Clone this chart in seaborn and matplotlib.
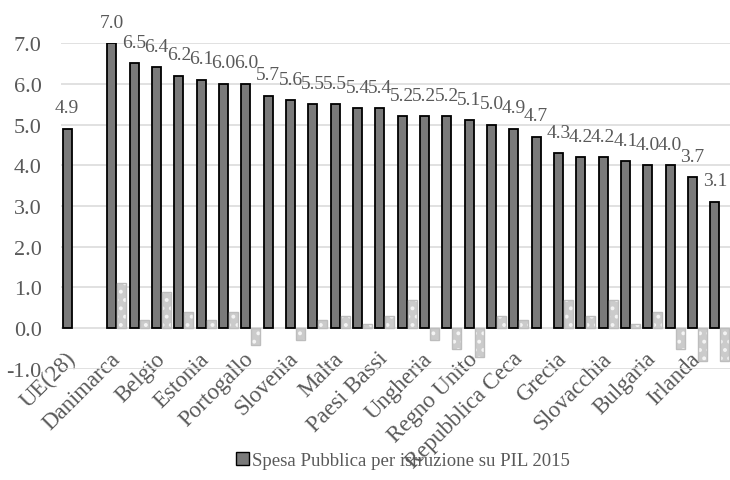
import numpy as np
import pandas as pd
import matplotlib
matplotlib.use("Agg")
import matplotlib.pyplot as plt
from matplotlib.patches import Patch, Rectangle
import seaborn as sns

# Categories in display order (the second slot is an intentional blank spacer)
categories = [
    "UE(28)", " ", "Danimarca", "Svezia", "Belgio", "Finlandia", "Estonia",
    "Cipro", "Portogallo", "Lettonia", "Slovenia", "Francia", "Malta",
    "Lituania", "Paesi Bassi", "Polonia", "Ungheria", "Austria",
    "Regno Unito", "Lussemburgo", "Repubblica Ceca", "Croazia", "Grecia",
    "Germania", "Slovacchia", "Spagna", "Bulgaria", "Italia", "Irlanda",
    "Romania",
]

# Public spending on education as % of GDP, 2015
spesa_2015 = [
    4.9, np.nan, 7.0, 6.5, 6.4, 6.2, 6.1, 6.0, 6.0, 5.7, 5.6, 5.5, 5.5, 5.4,
    5.4, 5.2, 5.2, 5.2, 5.1, 5.0, 4.9, 4.7, 4.3, 4.2, 4.2, 4.1, 4.0, 4.0,
    3.7, 3.1,
]

# Change in percentage points (not listed in the legend)
variazione = [
    np.nan, np.nan, 1.1, 0.2, 0.9, 0.4, 0.2, 0.4, -0.4, np.nan, -0.3, 0.2,
    0.3, 0.1, 0.3, 0.7, -0.3, -0.5, -0.7, 0.3, 0.2, np.nan, 0.7, 0.3, 0.7,
    0.1, 0.4, -0.5, -0.8, -0.8,
]

serie = ["Spesa Pubblica per istruzione su PIL 2015", "Variazione"]

# Every second category name is shown on the axis
tick_labels = [c if i % 2 == 0 else "" for i, c in enumerate(categories)]

rows = []
for c, a, b in zip(categories, spesa_2015, variazione):
    if not np.isnan(a):
        rows.append((c, serie[0], a))
    if not np.isnan(b):
        rows.append((c, serie[1], b))
df = pd.DataFrame(rows, columns=["paese", "serie", "valore"])

sns.set_theme(style="white")
plt.rcParams["font.family"] = ["Liberation Serif", "DejaVu Serif"]
plt.rcParams["hatch.linewidth"] = 1.6
text_col = "#595959"

fig = plt.figure(figsize=(7.30, 4.81), dpi=100)
ax = fig.add_axes([0.0836, 0.2308, 0.9178, 0.6777])

sns.barplot(
    data=df, x="paese", y="valore", hue="serie", order=categories,
    hue_order=serie, palette=["#7a7a7a", "#cbcbcb"], width=0.9, gap=0.1,
    errorbar=None, legend=False, ax=ax, zorder=3,
)

dark, light = ax.containers[0], ax.containers[1]
for p in dark:
    p.set_edgecolor("black")
    p.set_linewidth(1.3)

for p in light:
    p.set_edgecolor("#f4f4f4")
    p.set_linewidth(0)
    p.set_hatch("..")
    x0, y0 = p.get_xy()
    ax.add_patch(Rectangle((x0, y0), p.get_width(), p.get_height(),
                           fill=False, edgecolor="#bdbdbd", linewidth=1.0,
                           zorder=4))

ax.bar_label(dark, fmt="%.1f", padding=9, fontsize=14, color=text_col)

ax.set_ylim(-1.0, 7.0)
ax.set_yticks(np.arange(-1.0, 7.01, 1.0))
ax.set_yticklabels([f"{v:.1f}" for v in np.arange(-1.0, 7.01, 1.0)])
ax.yaxis.grid(True, color="#d9d9d9", linewidth=1.1, zorder=0)
ax.set_axisbelow(True)
for s in ax.spines.values():
    s.set_visible(False)

ax.set_xticks(range(len(categories)))
ax.set_xticklabels(tick_labels, rotation=45, ha="right", va="center",
                   rotation_mode="anchor")
ax.tick_params(axis="x", length=0, pad=-10, labelsize=16.5, labelcolor=text_col)
ax.tick_params(axis="y", length=0, pad=14, labelsize=16, labelcolor=text_col)
ax.set_xlabel("")
ax.set_ylabel("")

handle = Patch(facecolor="#7a7a7a", edgecolor="black", linewidth=1.0)
fig.legend([handle], [serie[0]], loc="center", bbox_to_anchor=(0.552, 0.04),
           frameon=False, fontsize=13.5, labelcolor=text_col, handlelength=0.7,
           handleheight=0.7, handletextpad=0.2)

fig.savefig("out.png", dpi=100)
